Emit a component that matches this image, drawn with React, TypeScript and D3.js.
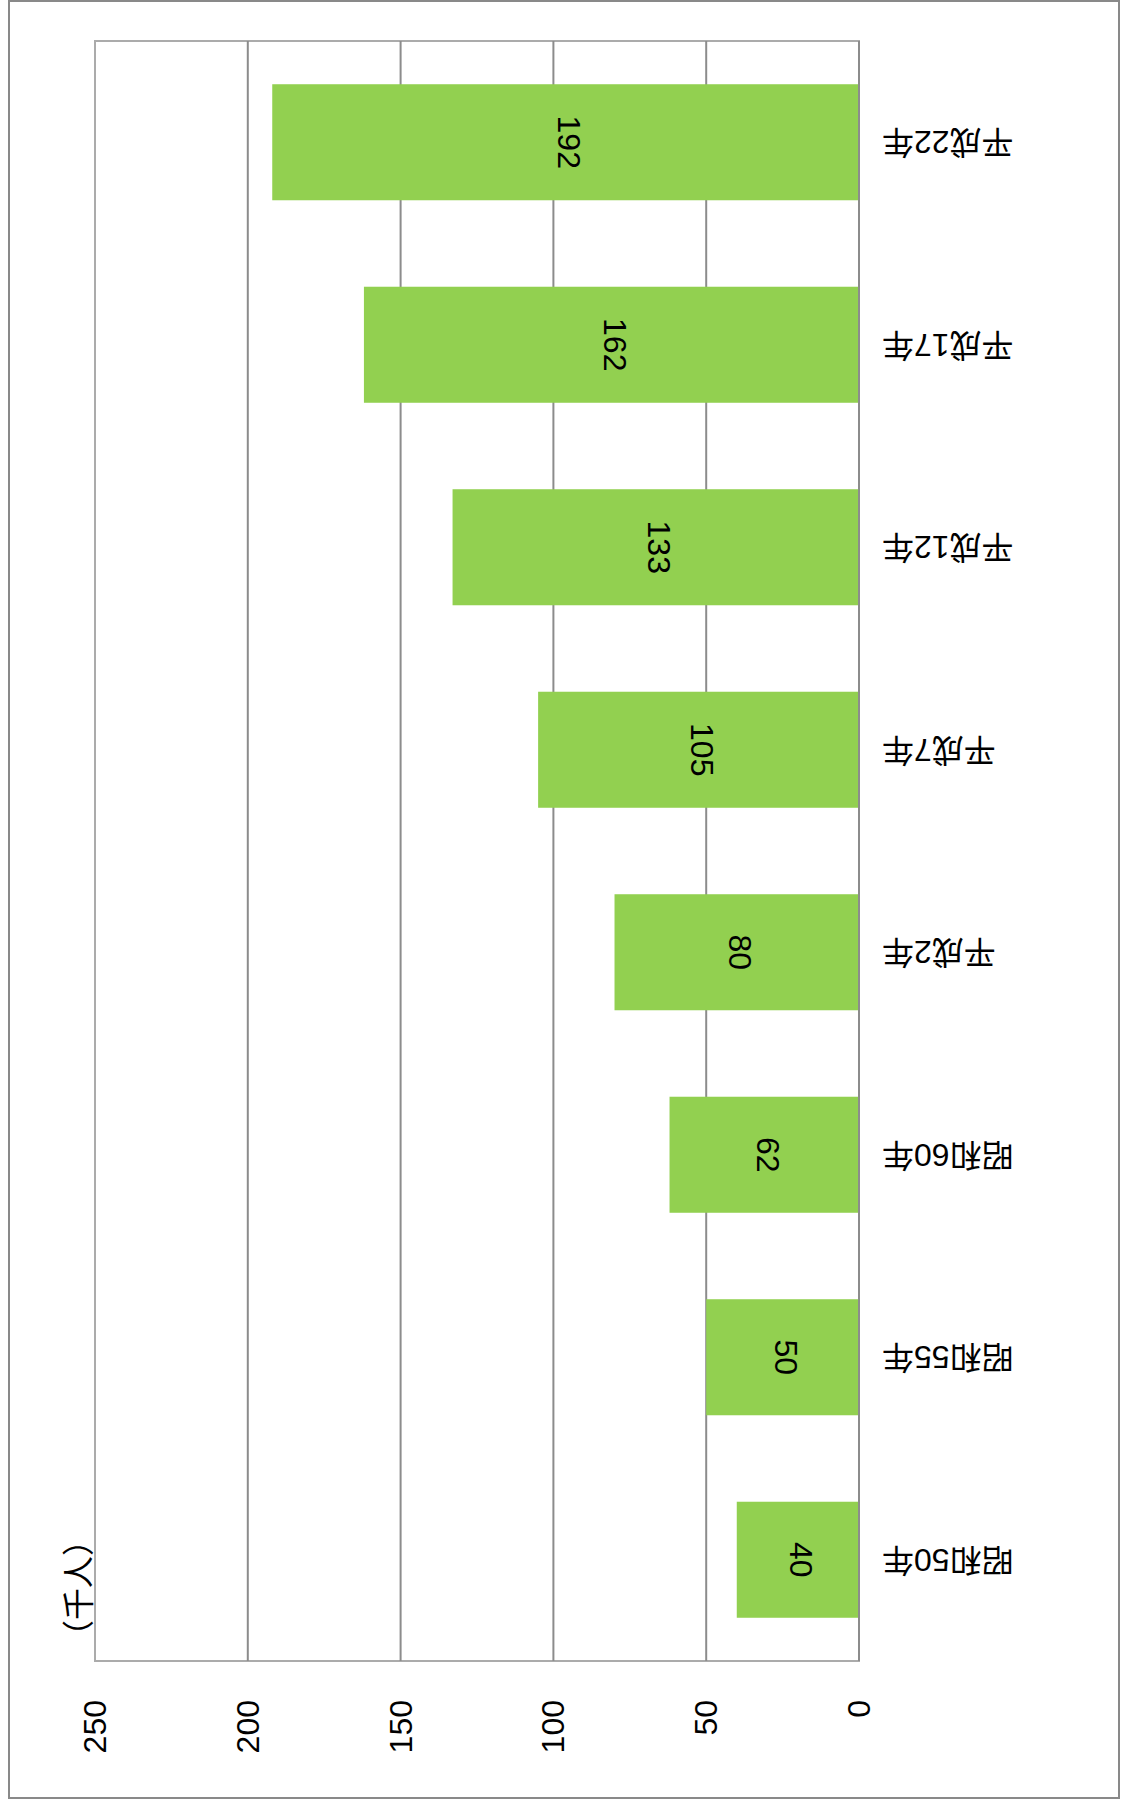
import React from "react";
import * as d3 from "d3";

const categories = ["昭和50年", "昭和55年", "昭和60年", "平成2年", "平成7年", "平成12年", "平成17年", "平成22年"];
const values = [40, 50, 62, 80, 105, 133, 162, 192];
const ticks = [0, 50, 100, 150, 200, 250];
const unitLabel = "（千人）";

const W = 1123;
const H = 1802;
const plot = { left: 95, right: 859, top: 41, bottom: 1661 };
const FONT = "'Liberation Sans', Arial, 'Noto Sans CJK JP', sans-serif";
const BAR = "#92D050";

export default function App() {
  const x = d3.scaleLinear().domain([0, 250]).range([plot.right, plot.left]);
  const y = d3
    .scaleBand<string>()
    .domain(categories)
    .range([plot.bottom, plot.top])
    .paddingInner(0.427)
    .paddingOuter(0.2135);

  return (
    <svg
      width={W}
      height={H}
      style={{ position: "absolute", left: 0, top: 0, background: "#fff" }}
      fontFamily={FONT}
    >
      <rect x={0} y={0} width={W} height={H} fill="#fff" />
      <rect x={9} y={1} width={1110} height={1797} fill="none" stroke="#898989" strokeWidth={2} />

      {/* plot area border */}
      <rect
        x={plot.left}
        y={plot.top}
        width={plot.right - plot.left}
        height={plot.bottom - plot.top}
        fill="none"
        stroke="#ababab"
        strokeWidth={2}
      />

      {/* gridlines */}
      {ticks
        .filter((t) => t > 0 && t < 250)
        .map((t) => (
          <line key={t} x1={x(t)} x2={x(t)} y1={plot.top} y2={plot.bottom} stroke="#8c8c8c" strokeWidth={2} />
        ))}

      {/* bars */}
      {categories.map((c, i) => (
        <rect
          key={c}
          x={x(values[i])}
          y={y(c)}
          width={x(0) - x(values[i])}
          height={y.bandwidth()}
          fill={BAR}
        />
      ))}

      {/* zero axis line */}
      <line x1={x(0)} x2={x(0)} y1={plot.top} y2={plot.bottom} stroke="#8c8c8c" strokeWidth={2} />

      {/* data labels */}
      {categories.map((c, i) => {
        const cx = (x(values[i]) + x(0)) / 2 + 3.5;
        const cy = (y(c) as number) + y.bandwidth() / 2;
        return (
          <text
            key={c}
            transform={`translate(${cx},${cy}) rotate(90)`}
            textAnchor="middle"
            dominantBaseline="central"
            fontSize={32}
            fill="#000"
          >
            {values[i]}
          </text>
        );
      })}

      {/* category labels */}
      {categories.map((c) => {
        const cy = (y(c) as number) + y.bandwidth() / 2;
        return (
          <text
            key={c}
            transform={`translate(882,${cy}) rotate(180)`}
            textAnchor="end"
            dominantBaseline="central"
            fontSize={32}
            fill="#000"
          >
            {c}
          </text>
        );
      })}

      {/* tick labels */}
      {ticks.map((t) => (
        <text
          key={t}
          transform={`translate(${x(t)},1700) rotate(-90)`}
          textAnchor="end"
          dominantBaseline="central"
          fontSize={32}
          fill="#000"
        >
          {t}
        </text>
      ))}

      {/* unit label */}
      <text
        transform={`translate(79,1588) rotate(-90)`}
        textAnchor="middle"
        dominantBaseline="central"
        fontSize={32}
        fill="#000"
      >
        {unitLabel}
      </text>
    </svg>
  );
}
